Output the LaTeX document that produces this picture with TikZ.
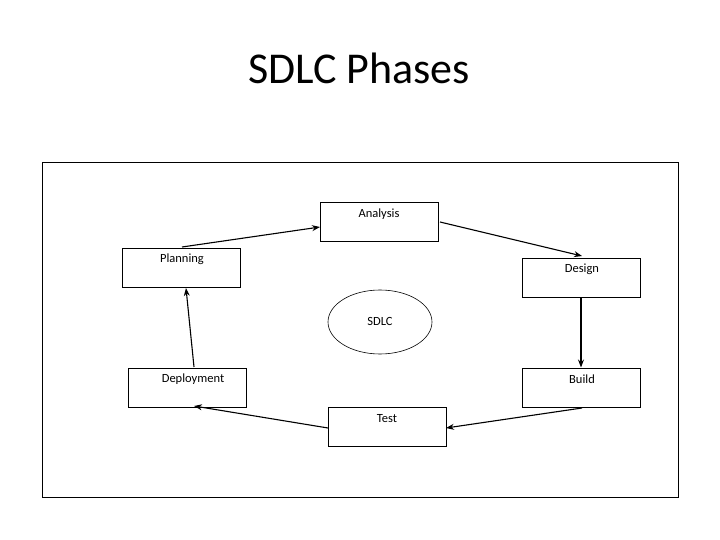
\documentclass[tikz,border=0pt]{standalone}
\usepackage{fontspec}
\setmainfont{Carlito}
\usetikzlibrary{shapes.geometric,arrows.meta}
\begin{document}
\begin{tikzpicture}[x=1pt,y=-1pt,
  phase/.style={draw,line width=1pt,minimum width=118pt,minimum height=39pt,inner sep=0pt},
  lbl/.style={font=\fontsize{12.5}{14}\selectfont},
  conn/.style={line width=1.1pt,-{Stealth[length=8pt,width=6pt]}}]
\useasboundingbox (0,0) rectangle (720,540);
\node[font=\fontsize{44}{48}\selectfont] (title) at (359,68) {SDLC Phases};
\node[draw,line width=0.6pt,minimum width=636pt,minimum height=335pt,inner sep=0pt] (frame) at (360,329.5) {};
\node[phase] (an) at (379,222) {};
\node[lbl] (anl) at (379,214) {Analysis};
\node[phase] (pl) at (181,267.5) {};
\node[lbl] (pll) at (182,259) {Planning};
\node[phase] (de) at (581,277.5) {};
\node[lbl] (del) at (582,269) {Design};
\node[draw,line width=0.6pt,ellipse,minimum width=104pt,minimum height=64pt] (sd) at (380,322) {};
\node[lbl] (sdl) at (380,321) {SDLC};
\node[phase] (dp) at (187,387.5) {};
\node[lbl] (dpl) at (193,379) {Deployment};
\node[phase] (bu) at (581,387.5) {};
\node[lbl] (bul) at (582,379) {Build};
\node[phase] (te) at (387,427) {};
\node[lbl] (tel) at (387,419) {Test};
\coordinate (p1) at (182,247);
\coordinate (p2) at (320,227);
\draw[conn] (p1) -- (p2);
\coordinate (a1) at (440,222);
\coordinate (a2) at (582,256);
\draw[conn] (a1) -- (a2);
\draw[conn] (de.south) -- (bu.north);
\coordinate (b1) at (582,408);
\coordinate (t1) at (446,428);
\draw[conn] (b1) -- (t1);
\coordinate (t2) at (328,428);
\coordinate (d1) at (194,406);
\draw[conn] (t2) -- (d1);
\coordinate (d2) at (194,367);
\coordinate (p3) at (186,288);
\draw[conn] (d2) -- (p3);
\end{tikzpicture}
\end{document}
